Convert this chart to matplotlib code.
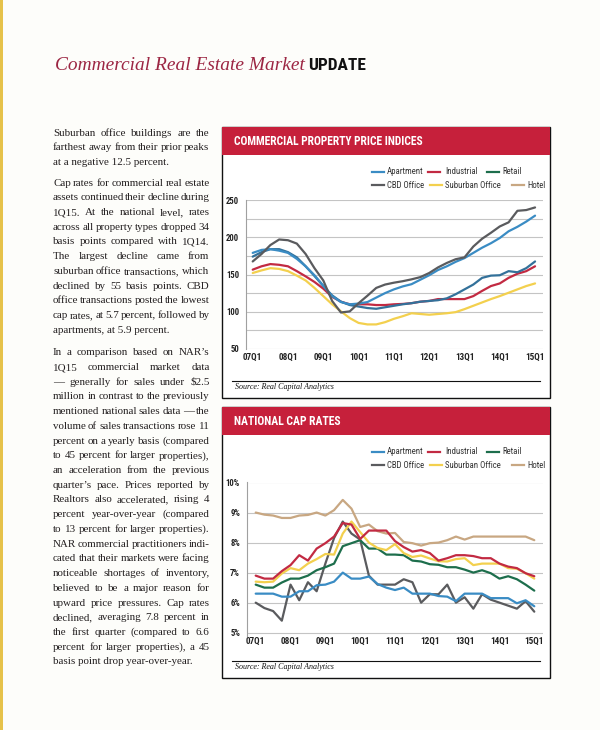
import matplotlib
matplotlib.use('Agg')
import matplotlib.pyplot as plt
from matplotlib import font_manager as fm
from matplotlib.lines import Line2D
from matplotlib.patches import Rectangle

W, H = 600, 730

# quarters 07Q1 .. 15Q1
quarters = [f'{y:02d}Q{q}' for y in range(7, 16) for q in range(1, 5)][:33]
year_ticks = quarters[::4]

# commercial property price indices
apt_idx = [179, 183, 184, 182, 179, 171, 161, 149, 135, 121, 113, 110, 111, 113, 119, 125, 130,
           134, 137, 143, 149, 156, 161, 167, 172, 179, 186, 192, 199, 208, 214, 221, 229]
ind_idx = [156.5, 161, 164, 163, 161, 154.5, 147.5, 140, 131, 120, 113.5, 110, 110, 110, 109, 109, 110,
           110.5, 111.5, 113.5, 114.5, 117, 117, 117, 117, 121, 128, 134.5, 138, 145.5, 151, 154.5, 161]
ret_idx = [174, 180, 184, 184, 180, 173, 161, 148, 134.5, 122, 113.5, 109, 107, 105, 104, 106, 108,
           110, 111.5, 113.5, 114.5, 115.5, 118, 123.5, 130, 136.5, 145.5, 148.5, 149, 154.5, 153, 158.5, 167.5]
cbd_idx = [167.5, 177.5, 189.5, 197, 196, 191.5, 177.5, 158.5, 142, 114.5, 99, 100.5, 111.5, 121.5, 132,
           136.5, 139, 141, 143.5, 146.5, 152, 159.5, 165.5, 170.5, 173, 187.5, 198, 206, 214.5, 220,
           235.5, 236.5, 240]
sub_idx = [152, 155.5, 158.5, 157.5, 154.5, 148.5, 142, 132, 121, 110, 100.5, 91.5, 85, 83, 83, 86, 90.5,
           94, 98, 97, 96, 97, 98, 99.5, 103.5, 108, 112.5, 117, 121, 125.5, 130, 134.5, 138]

# national cap rates (%)
apt_cap = [6.3, 6.3, 6.3, 6.2, 6.2, 6.38, 6.38, 6.58, 6.6, 6.7, 7.0, 6.8, 6.8, 6.87, 6.62, 6.5, 6.42,
           6.5, 6.3, 6.3, 6.3, 6.22, 6.2, 6.05, 6.3, 6.3, 6.3, 6.15, 6.15, 6.15, 5.98, 6.08, 5.88]
ind_cap = [6.9, 6.8, 6.8, 7.05, 7.25, 7.58, 7.4, 7.8, 7.98, 8.2, 8.65, 8.6, 8.12, 8.4, 8.4, 8.4, 8.05,
           7.85, 7.7, 7.75, 7.65, 7.4, 7.48, 7.58, 7.58, 7.55, 7.48, 7.48, 7.3, 7.2, 7.15, 6.98, 6.88]
ret_cap = [6.6, 6.5, 6.5, 6.67, 6.8, 6.8, 6.9, 7.08, 7.18, 7.3, 7.88, 7.98, 8.08, 7.8, 7.8, 7.6, 7.6,
           7.58, 7.4, 7.37, 7.28, 7.26, 7.18, 7.18, 7.1, 7.0, 7.08, 6.98, 6.8, 6.88, 6.78, 6.6, 6.4]
cbd_cap = [6.0, 5.82, 5.72, 5.4, 6.6, 6.08, 6.68, 6.38, 7.3, 8.15, 8.7, 8.3, 8.1, 6.9, 6.6, 6.6, 6.6,
           6.78, 6.68, 6.0, 6.28, 6.28, 6.6, 6.0, 6.18, 5.8, 6.28, 6.1, 6.0, 5.9, 5.8, 6.05, 5.7]
sub_cap = [6.7, 6.68, 6.7, 6.97, 7.15, 7.08, 7.3, 7.45, 7.62, 7.6, 8.3, 8.7, 8.35, 8.0, 7.82, 7.75, 7.95,
           7.65, 7.52, 7.57, 7.47, 7.38, 7.37, 7.45, 7.48, 7.25, 7.3, 7.3, 7.3, 7.15, 7.13, 6.98, 6.8]
hot_cap = [9.0, 8.93, 8.9, 8.82, 8.82, 8.9, 8.92, 9.0, 8.9, 9.08, 9.42, 9.13, 8.52, 8.6, 8.38, 8.3, 8.32,
           8.02, 7.98, 7.9, 7.98, 8.0, 8.08, 8.2, 8.1, 8.2, 8.2, 8.2, 8.2, 8.2, 8.2, 8.2, 8.08]

legend_names = ['Apartment', 'Industrial', 'Retail', 'CBD Office', 'Suburban Office', 'Hotel']
colors = {'Apartment': '#3a8cc4', 'Industrial': '#c22a42', 'Retail': '#1d6e4c',
          'CBD Office': '#5a5b5e', 'Suburban Office': '#f3d04e', 'Hotel': '#c8a782'}

para1 = ["Suburban office buildings are the",
         "farthest away from their prior peaks",
         "at a negative 12.5 percent."]
para2 = ["Cap rates for commercial real estate",
         "assets continued their decline during",
         "1Q15.  At the national level, rates",
         "across all property types dropped 34",
         "basis points compared with 1Q14.",
         "The largest decline came from",
         "suburban office transactions, which",
         "declined by 55 basis points. CBD",
         "office transactions posted the lowest",
         "cap rates, at 5.7 percent, followed by",
         "apartments, at 5.9 percent."]
para3 = ["In a comparison based on NAR\u2019s",
         "1Q15 commercial market data",
         "\u2014 generally for sales under $2.5",
         "million in contrast to the previously",
         "mentioned national sales data \u2014 the",
         "volume of sales transactions rose 11",
         "percent on a yearly basis (compared",
         "to 45 percent for larger properties),",
         "an acceleration from the previous",
         "quarter\u2019s pace.  Prices reported by",
         "Realtors also accelerated, rising 4",
         "percent year-over-year (compared",
         "to 13 percent for larger properties).",
         "NAR commercial practitioners indi-",
         "cated that their markets were facing",
         "noticeable shortages of inventory,",
         "believed to be a major reason for",
         "upward price pressures. Cap rates",
         "declined, averaging 7.8 percent in",
         "the first quarter (compared to 6.6",
         "percent for larger properties), a 45",
         "basis point drop year-over-year."]

SERIF = ['Liberation Serif', 'DejaVu Serif']

# pick a narrow sans if one is installed
_fonts = fm.fontManager.ttflist
_names = {f.name for f in _fonts}
NARROW = dict(family=['DejaVu Sans'])
IS_NARROW = False
for cand in ['Liberation Sans Narrow', 'Roboto Condensed', 'Open Sans Condensed',
             'DejaVu Sans Condensed', 'Noto Sans Condensed']:
    if cand in _names:
        NARROW = dict(family=[cand, 'DejaVu Sans'])
        IS_NARROW = True
        break
else:
    cond = [f for f in _fonts if str(f.stretch) in ('condensed', 'semi-condensed', 'extra-condensed')
            and 'Sans' in f.name and 'Mono' not in f.name]
    if cond:
        NARROW = dict(family=[cond[0].name, 'DejaVu Sans'], stretch=cond[0].stretch)
        IS_NARROW = True
    elif 'Roboto' in _names:
        NARROW = dict(family=['Roboto', 'DejaVu Sans'])


def fx(x):
    return x / W


def fy(y):
    return 1 - y / H


fig = plt.figure(figsize=(6, 7.3), dpi=100)
fig.patch.set_facecolor('#fdfdfa')
renderer = fig.canvas.get_renderer()


def width_of(t):
    return t.get_window_extent(renderer).width


def fit_text(x, y, s, width, min_size=0, **kw):
    t = fig.text(fx(x), fy(y), s, fontsize=10, **kw)
    t.set_fontsize(max(10 * width / width_of(t), min_size))
    return t


# left yellow edge
fig.add_artist(Rectangle((0, 0), fx(3), 1, transform=fig.transFigure, color='#e6c24a', lw=0))

# page title
t1 = fit_text(55, 69.5, 'Commercial Real Estate Market', 250, family=SERIF, style='italic',
              color='#9c2643', va='baseline')
t1_right = t1.get_window_extent(renderer).x1
fit_text(t1_right + 3, 69.5, 'UPDATE', 55, min_size=12.5, weight='bold', color='#111111',
         va='baseline', **NARROW)

# body text, justified
x0, x1 = 53, 209.5
all_lines = para1[:-1] + para2[:-1] + para3[:-1]
probe = [fig.text(0, 0, ln, family=SERIF, fontsize=10) for ln in all_lines]
natural = max(width_of(p) for p in probe)
for p in probe:
    p.remove()
body_size = 10 * (x1 - x0) / natural * 1.04


def justify(lines, ytop, step=14.72):
    for i, line in enumerate(lines):
        yb = fy(ytop + i * step + 3.6)
        words = line.split()
        kw = dict(family=SERIF, fontsize=body_size, color='#231f20', va='baseline')
        if i == len(lines) - 1 or len(words) == 1:
            fig.text(fx(x0), yb, line, **kw)
            continue
        arts = [fig.text(0, yb, w, **kw) for w in words]
        widths = [width_of(a) for a in arts]
        gap = (x1 - x0 - sum(widths)) / (len(words) - 1)
        x = x0
        for a, wd in zip(arts, widths):
            a.set_x(fx(x))
            x += wd + gap


justify(para1, 132)
justify(para2, 182)
justify(para3, 351.7)


def panel(top, title, title_w):
    fig.add_artist(Rectangle((fx(222), fy(top + 271)), fx(550) - fx(222), 271 / H,
                             transform=fig.transFigure, facecolor='white', edgecolor='#111111',
                             lw=1.0, zorder=0))
    fig.add_artist(Rectangle((fx(222), fy(top + 28)), fx(550) - fx(222), 28 / H,
                             transform=fig.transFigure, facecolor='#c6203b', lw=0, zorder=1))
    fit_text(234, top + 14.5, title, title_w, min_size=7.6, weight='bold', color='white',
             va='center', **NARROW)
    # legend
    cols = [[(372, 387), (428, 445), (487, 502)], [(372, 387), (430, 445), (512, 527)]]
    for r, row in enumerate(cols):
        yy = fy(top + 45 + r * 13)
        for c, (lx, tx) in enumerate(row):
            name = legend_names[r * 3 + c]
            fig.add_artist(Line2D([fx(lx), fx(lx + 11.5)], [yy, yy], transform=fig.transFigure,
                                  color=colors[name], lw=1.6))
            fig.text(fx(tx), yy, name, fontsize=6.3 if IS_NARROW else 5.4, color='#333333',
                     va='center', **NARROW)
    # source
    fig.add_artist(Line2D([fx(232), fx(540)], [fy(top + 254)] * 2, transform=fig.transFigure,
                          color='#111111', lw=0.8))
    fig.text(fx(235), fy(top + 260), 'Source: Real Capital Analytics', family=SERIF,
             style='italic', fontsize=5.8, color='#111111', va='center')


panel(127, 'COMMERCIAL PROPERTY PRICE INDICES', 190)
panel(407, 'NATIONAL CAP RATES', 107)


def style_axes(ax):
    for s in ['top', 'right', 'bottom']:
        ax.spines[s].set_visible(False)
    ax.spines['left'].set_color('#a0a0a0')
    ax.spines['left'].set_linewidth(0.8)
    ax.grid(axis='y', color='#c4c4c4', lw=0.8)
    ax.set_axisbelow(True)
    ax.tick_params(axis='both', length=0, colors='#222222')
    xs = 6.6 if IS_NARROW else 5.6
    ys = 6.2 if IS_NARROW else 5.4
    for lab in ax.get_xticklabels():
        lab.set_fontproperties(fm.FontProperties(weight='bold', size=xs, **NARROW))
    for lab in ax.get_yticklabels():
        lab.set_fontproperties(fm.FontProperties(weight='bold', size=ys, **NARROW))


qx = list(range(len(quarters)))

# chart 1
ax1 = fig.add_axes([fx(246), fy(349), fx(543) - fx(246), (349 - 200) / H])
ax1.set_facecolor('none')
for name, vals in [('Suburban Office', sub_idx), ('Industrial', ind_idx), ('Retail', ret_idx),
                   ('Apartment', apt_idx), ('CBD Office', cbd_idx)]:
    col = '#33719a' if name == 'Retail' else colors[name]
    ax1.plot(qx, vals, color=col, lw=1.6, solid_capstyle='round')
ax1.set_ylim(50, 250)
ax1.set_xlim(-0.76, 32.9)
ax1.set_yticks(range(50, 251, 25), [str(v) if v % 50 == 0 else '' for v in range(50, 251, 25)])
ax1.set_xticks(qx[::4], year_ticks)
ax1.tick_params(axis='x', pad=2.5)
ax1.tick_params(axis='y', pad=5)
style_axes(ax1)

# chart 2
ax2 = fig.add_axes([fx(247), fy(635.7), fx(543) - fx(247), (635.7 - 482.5) / H])
ax2.set_facecolor('none')
for name, vals in [('Hotel', hot_cap), ('CBD Office', cbd_cap), ('Apartment', apt_cap),
                   ('Retail', ret_cap), ('Suburban Office', sub_cap), ('Industrial', ind_cap)]:
    ax2.plot(qx, vals, color=colors[name], lw=1.6, solid_capstyle='round')
ax2.set_ylim(4.9, 10)
ax2.set_xlim(-1.0, 33.0)
ax2.set_yticks(range(5, 11), [f'{v}%' for v in range(5, 11)])
ax2.set_xticks(qx[::4], year_ticks)
ax2.tick_params(axis='x', pad=1)
ax2.tick_params(axis='y', pad=5)
style_axes(ax2)

fig.savefig('out.png', dpi=100, facecolor=fig.get_facecolor())
